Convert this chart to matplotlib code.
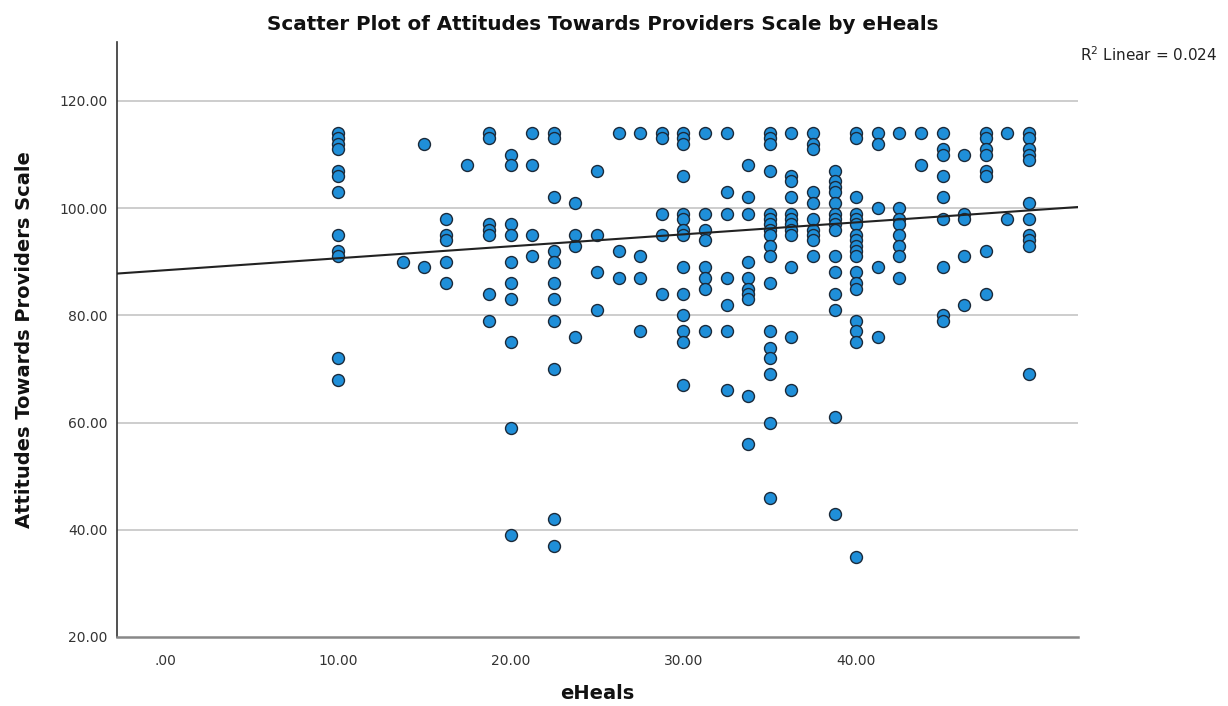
import numpy as np
import matplotlib
matplotlib.use("Agg")
import matplotlib.pyplot as plt

# ---- data (eHeals score, attitude score) ----
eheals = (
    [8] * 12 + [11] * 1 + [12] * 2 + [13] * 5 + [14] * 1 + [15] * 7 + [16] * 10 +
    [17] * 4 + [18] * 11 + [19] * 4 + [20] * 4 + [21] * 3 + [22] * 4 + [23] * 5 +
    [24] * 14 + [25] * 8 + [26] * 7 + [27] * 10 + [28] * 18 + [29] * 12 + [30] * 10 +
    [31] * 15 + [32] * 18 + [33] * 5 + [34] * 8 + [35] * 2 + [36] * 9 + [37] * 5 +
    [38] * 8 + [39] * 2 + [40] * 11
)
attitudes = [
    114, 113, 112, 111, 107, 106, 103, 95, 92, 91, 72, 68,      # 8
    90,                                                          # 11
    112, 89,                                                     # 12
    98, 95, 94, 90, 86,                                          # 13
    108,                                                         # 14
    114, 113, 97, 96, 95, 84, 79,                                # 15
    110, 108, 97, 95, 90, 86, 83, 75, 59, 39,                    # 16
    114, 108, 95, 91,                                            # 17
    114, 113, 102, 92, 90, 86, 83, 79, 70, 42, 37,               # 18
    101, 95, 93, 76,                                             # 19
    107, 95, 88, 81,                                             # 20
    114, 92, 87,                                                 # 21
    114, 91, 87, 77,                                             # 22
    114, 113, 99, 95, 84,                                        # 23
    114, 113, 112, 106, 99, 98, 96, 95, 89, 84, 80, 77, 75, 67,  # 24
    114, 99, 96, 94, 89, 87, 85, 77,                             # 25
    114, 103, 99, 87, 82, 77, 66,                                # 26
    108, 102, 99, 90, 87, 85, 84, 83, 65, 56,                    # 27
    114, 113, 112, 107, 99, 98, 97, 96, 95, 93, 91, 86, 77, 74, 72, 69, 60, 46,  # 28
    114, 106, 105, 102, 99, 98, 97, 96, 95, 89, 76, 66,          # 29
    114, 112, 111, 103, 101, 98, 96, 95, 94, 91,                 # 30
    107, 105, 104, 103, 101, 99, 98, 97, 96, 91, 88, 84, 81, 61, 43,  # 31
    114, 113, 102, 99, 98, 97, 95, 94, 93, 92, 91, 88, 86, 85, 79, 77, 75, 35,  # 32
    114, 112, 100, 89, 76,                                       # 33
    114, 100, 98, 97, 95, 93, 91, 87,                            # 34
    114, 108,                                                    # 35
    114, 111, 110, 106, 102, 98, 89, 80, 79,                     # 36
    110, 99, 98, 91, 82,                                         # 37
    114, 113, 111, 110, 107, 106, 92, 84,                        # 38
    114, 98,                                                     # 39
    114, 113, 111, 110, 109, 101, 98, 95, 94, 93, 69,            # 40
]

# linear fit line (full data contains overlapping cases)
fit_intercept = 88.42
fit_slope = 0.279

x_tick_pos = [0, 8, 16, 24, 32]
x_tick_labels = [".00", "10.00", "20.00", "30.00", "40.00"]
y_ticks = [20, 40, 60, 80, 100, 120]
r2_text = "R$^2$ Linear = 0.024"

title = "Scatter Plot of Attitudes Towards Providers Scale by eHeals"
xlabel = "eHeals"
ylabel = "Attitudes Towards Providers Scale"

x = np.array(eheals, dtype=float)
y = np.array(attitudes, dtype=float)

fig = plt.figure(figsize=(12.28, 7.06), dpi=100)
ax = fig.add_axes([117 / 1228, 1 - 637 / 706, (1078 - 117) / 1228, (637 - 42) / 706])

xmin, xmax = -2.22, 42.27
ax.set_xlim(xmin, xmax)
ax.set_ylim(20, 131)

# grid lines
for v in y_ticks[1:]:
    ax.axhline(v, color="#c9c9c9", lw=1.3, zorder=0)

ax.scatter(x, y, s=74, facecolor="#1f8fd9", edgecolor="#1b2a3a", linewidth=1.0, zorder=3)

xx = np.array([xmin, xmax])
ax.plot(xx, fit_intercept + fit_slope * xx, color="#222222", lw=1.5, zorder=4)

ax.set_xticks(x_tick_pos)
ax.set_xticklabels(x_tick_labels)
ax.set_yticks(y_ticks)
ax.set_yticklabels([f"{v:.2f}" for v in y_ticks])
ax.tick_params(axis="both", length=0, labelsize=10, colors="#333333")
ax.tick_params(axis="x", pad=12)
ax.tick_params(axis="y", pad=7)

for s in ["top", "right"]:
    ax.spines[s].set_visible(False)
ax.spines["left"].set_color("#333333")
ax.spines["left"].set_linewidth(1.2)
ax.spines["bottom"].set_color("#888888")
ax.spines["bottom"].set_linewidth(1.8)

ax.set_xlabel(xlabel, fontsize=14, fontweight="bold", labelpad=12, color="#111111")
ax.set_ylabel(ylabel, fontsize=14, fontweight="bold", labelpad=18, color="#111111")
fig.text(603 / 1228, 1 - 25 / 706, title, ha="center", va="center",
         fontsize=14.3, fontweight="bold", color="#111111")
fig.text(1149 / 1228, 1 - 55 / 706, r2_text, ha="center", va="center",
         fontsize=11, color="#222222")

fig.savefig("out.png", dpi=100)
